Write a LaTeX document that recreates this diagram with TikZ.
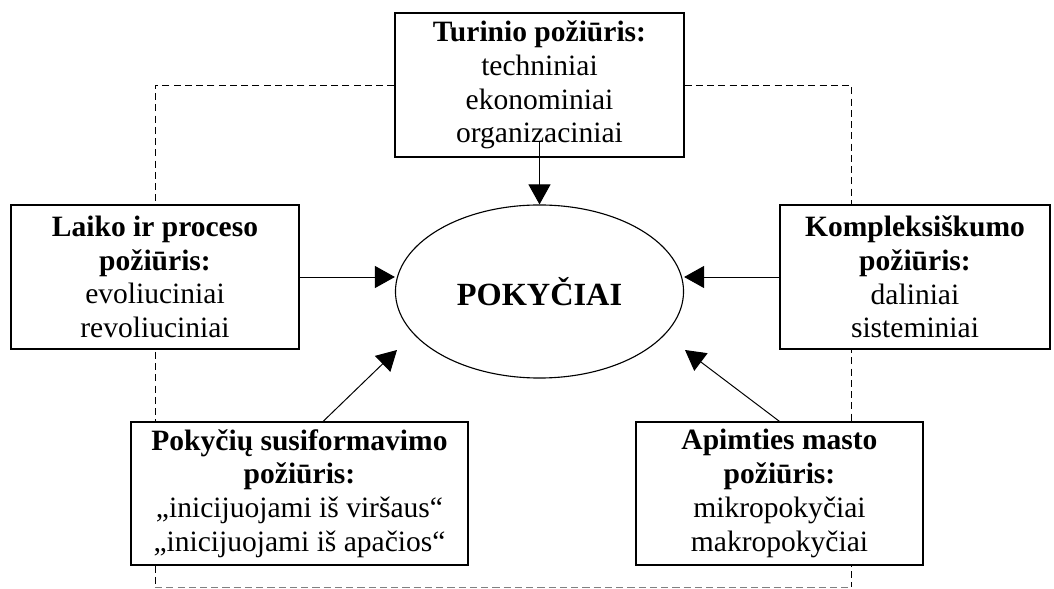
\documentclass[tikz,border=0pt]{standalone}
\usepackage{fontspec}
\setmainfont{Liberation Serif}
\usepackage{tikz}
\usetikzlibrary{arrows.meta}
\usetikzlibrary{calc}
\usetikzlibrary{positioning}
\usetikzlibrary{shapes.geometric}

\begin{document}
\begin{tikzpicture}[x=0.025cm, y=-0.025cm,
    box/.style={draw=black, fill=white, line width=0.8pt, align=center, inner sep=0pt,
      font=\fontsize{21}{24}\selectfont},
    frame/.style={line width=0.7pt, dash pattern=on 5pt off 3pt},
    arr/.style={line width=0.7pt, -{Triangle[length=0.5cm, width=0.55cm]}}]
    \useasboundingbox (0,0) rectangle (1054,589);
    \coordinate (fl) at (155,587.5);
    \coordinate (fr) at (851,587.5);
    \coordinate (pt) at (397,350);
    \coordinate (at) at (685,350);
    \node[box, minimum width=7.225cm, minimum height=3.6cm] (Tur) at (539.5,85)
      {\textbf{Turinio požiūris:}\\techniniai\\ekonominiai\\organizaciniai};
    \draw[frame] (Tur.west) -| (fl);
    \draw[frame] (Tur.east) -| (fr);
    \draw[frame, black!50] (fl) -- (fr);
    \node[box, minimum width=7.225cm, minimum height=3.6cm] (Tur) at (539.5,85)
      {\textbf{Turinio požiūris:}\\techniniai\\ekonominiai\\organizaciniai};
    \node[box, minimum width=7.2cm, minimum height=3.6cm] (Lai) at (155,277)
      {\textbf{Laiko ir proceso}\\\textbf{požiūris:}\\evoliuciniai\\revoliuciniai};
    \node[box, minimum width=6.75cm, minimum height=3.6cm] (Kom) at (915,277)
      {\textbf{Kompleksiškumo}\\\textbf{požiūris:}\\daliniai\\sisteminiai};
    \node[box, minimum width=8.425cm, minimum height=3.575cm] (Pok) at (299.5,493.5)
      {\textbf{Pokyčių susiformavimo}\\\textbf{požiūris:}\\„inicijuojami iš viršaus“\\„inicijuojami iš apačios“};
    \node[box, minimum width=7.175cm, minimum height=3.575cm] (Apm) at (779.5,493.5)
      {\textbf{Apimties masto}\\\textbf{požiūris:}\\mikropokyčiai\\makropokyčiai};
    \node[draw=black, ellipse, line width=0.8pt, inner sep=0pt, minimum width=7.2cm,
      minimum height=4.325cm, font=\fontsize{23}{27}\selectfont\bfseries] (C) at (539.5,291.5) {POKYČIAI};
    \draw[arr] ([yshift=0.425cm]Tur.south) -- (C.north);
    \draw[arr] (Lai.east) -- (Lai.east -| C.west);
    \draw[arr] (Kom.west) -- (Kom.west -| C.east);
    \draw[arr] ([xshift=0.59cm]Pok.north) -- (pt);
    \draw[arr] (Apm.north) -- (at);
  \end{tikzpicture}
\end{document}
